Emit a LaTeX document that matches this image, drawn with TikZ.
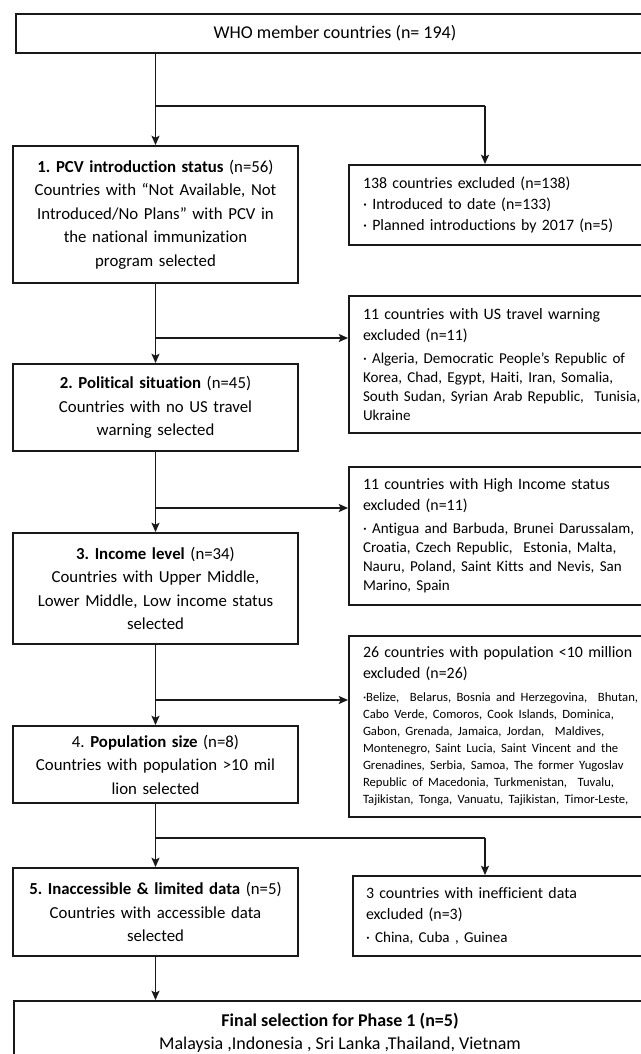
\documentclass[tikz,border=0pt]{standalone}
\usepackage{fontspec}
\setmainfont{Carlito}[Ligatures=NoCommon]
\usetikzlibrary{arrows.meta}
\frenchspacing
\newcommand\fTop{\fontsize{13.5pt}{17.6pt}\selectfont}
\newcommand\fMain{\fontsize{12.6pt}{17.6pt}\selectfont}
\newcommand\fHead{\fontsize{11.9pt}{15.75pt}\selectfont}
\newcommand\fSmall{\fontsize{11.3pt}{14.25pt}\selectfont}
\newcommand\fTiny{\fontsize{9.5pt}{12.75pt}\selectfont}
\begin{document}
\frenchspacing
\begin{tikzpicture}[x=0.75pt,y=-0.75pt,
  ln/.style={line width=1.4pt, draw=black!90},
  arr/.style={ln, -{Stealth[length=7pt,width=6pt,inset=1.5pt]}},
  mainbox/.style={draw=black!90, line width=1.4pt, inner sep=0pt, align=center,
    text width=212pt, minimum width=213.75pt, font=\fMain},
  widebox/.style={draw=black!90, line width=1.4pt, inner sep=0pt, align=center, font=\fTop},
  exbox/.style={draw=black!90, line width=1.4pt, inner sep=0pt, align=left,
    text width=242.25pt, minimum width=263.25pt, font=\fHead}]
\useasboundingbox (0,0) rectangle (641,1054);
\clip (0,0) rectangle (641,1054);
\fill[white] (0,0) rectangle (641,1054);

\node[widebox, minimum width=478.5pt, minimum height=29.25pt] (top) at (335,33.5)
  {WHO member countries (n= 194)};

\node[mainbox, minimum height=102.75pt] (b1) at (155.5,214.5)
  {\textbf{1. PCV introduction status} (n=56)\\Countries with “Not Available, Not\\Introduced/No Plans” with PCV in\\the national immunization\\program selected};
\node[mainbox, minimum height=65.25pt] (b2) at (155.5,407.5)
  {\textbf{2. Political situation} (n=45)\\Countries with no US travel\\warning selected};
\node[mainbox, minimum height=83.25pt] (b3) at (155.5,588.5)
  {\textbf{3. Income level} (n=34)\\Countries with Upper Middle,\\Lower Middle, Low income status\\selected};
\node[mainbox, minimum height=57.75pt] (b4) at (155.5,764.5)
  {4. \textbf{Population size} (n=8)\\Countries with population >10 mil\\lion selected};
\node[mainbox, minimum height=66pt] (b5) at (155.5,912)
  {\textbf{5. Inaccessible \& limited data} (n=5)\\Countries with accessible data\\selected};
\node[widebox, minimum width=489pt, minimum height=47.25pt] (fin) at (340,1032.5)
  {\textbf{Final selection for Phase 1 (n=5)}\\Malaysia ,Indonesia , Sri Lanka ,Thailand, Vietnam};

\node[exbox, minimum height=60pt] (ex1) at (524.5,205)
  {138 countries excluded (n=138)\\· Introduced to date (n=133)\\· Planned introductions by 2017 (n=5)};
\node[exbox, minimum height=102.75pt] (ex2) at (524.5,364.5)
  {11 countries with US travel warning\\excluded (n=11)\par\vskip3pt
   {\fSmall · Algeria, Democratic People's Republic of\\Korea, Chad, Egypt, Haiti, Iran, Somalia,\\South Sudan, Syrian Arab Republic,\ \ Tunisia,\\Ukraine\par}};
\node[exbox, minimum height=103.5pt] (ex3) at (524.5,536)
  {11 countries with High Income status\\excluded (n=11)\par\vskip3pt
   {\fSmall · Antigua and Barbuda, Brunei Darussalam,\\Croatia, Czech Republic,\ \ Estonia, Malta,\\Nauru, Poland, Saint Kitts and Nevis, San\\Marino, Spain\par}};
\node[exbox, minimum height=135.75pt] (ex4) at (524.5,726.5)
  {26 countries with population <10 million\\excluded (n=26)\par\vskip4.5pt
   {\fTiny ·Belize,\ \ Belarus,\ Bosnia and Herzegovina,\ \ Bhutan,\\Cabo Verde, Comoros, Cook Islands, Dominica,\\Gabon, Grenada, Jamaica, Jordan,\ \ Maldives,\\Montenegro, Saint Lucia, Saint Vincent and the\\Grenadines, Serbia, Samoa, The former Yugoslav\\Republic of Macedonia, Turkmenistan,\ \ Tuvalu,\\Tajikistan, Tonga, Vanuatu, Tajikistan, Timor-Leste,\par}};
\node[exbox, text width=240.75pt, minimum width=260.25pt, minimum height=60pt] (ex5) at (526.5,916)
  {3 countries with inefficient data\\excluded (n=3)\par\vskip3pt
   {\fSmall · China, Cuba , Guinea\par}};

\coordinate (j1) at (155.5,106);
\coordinate (k1) at (485,106);
\coordinate (j2) at (155.5,338);
\coordinate (j3) at (155.5,508);
\coordinate (j4) at (155.5,700);
\coordinate (j5) at (155.5,838);
\coordinate (k5) at (485,838);

\draw[arr] (top.south -| b1.north) -- (b1.north);
\draw[ln] (j1) -- (k1);
\draw[arr] (k1) -- (k1 |- ex1.north);
\draw[arr] (b1.south) -- (b2.north);
\draw[arr] (j2) -- (j2 -| ex2.west);
\draw[arr] (b2.south) -- (b3.north);
\draw[arr] (j3) -- (j3 -| ex3.west);
\draw[arr] (b3.south) -- (b4.north);
\draw[arr] (j4) -- (j4 -| ex4.west);
\draw[arr] (b4.south) -- (b5.north);
\draw[ln] (j5) -- (k5);
\draw[arr] (k5) -- (k5 |- ex5.north);
\draw[arr] (b5.south) -- (b5.south |- fin.north);
\end{tikzpicture}
\end{document}
